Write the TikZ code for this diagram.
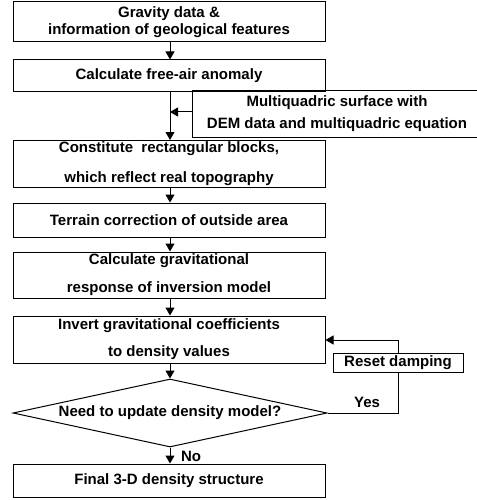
\documentclass[tikz,border=0pt]{standalone}
\usepackage{fontspec}
\setmainfont{Liberation Sans}
\usetikzlibrary{shapes.geometric,arrows.meta}
\begin{document}
\begin{tikzpicture}[x=1pt,y=-1pt,
  every node/.style={font=\fontsize{15}{17}\selectfont\bfseries},
  box/.style={draw,line width=1pt,minimum width=312pt,inner sep=0pt,align=center},
  arr/.style={line width=1pt,-{Triangle[length=8pt,width=9pt]}},
  ln/.style={line width=1pt}]
\useasboundingbox (0,0) rectangle (476,500);
\node[box,minimum height=40pt,font=\fontsize{15}{17}\selectfont\bfseries] (b1) at (169,22) {Gravity data \&\\information of geological features};
\node[box,minimum height=32pt] (b2) at (169,76) {Calculate free-air anomaly};
\node[draw,line width=1pt,minimum width=290pt,minimum height=46pt,inner sep=0pt,align=center,font=\fontsize{15}{22}\selectfont\bfseries] (side) at (337,114) {Multiquadric surface with\\DEM data and multiquadric equation};
\node[box,minimum height=47pt,font=\fontsize{15}{30}\selectfont\bfseries] (b3) at (169,163.5) {Constitute\ \ rectangular blocks,\\which reflect real topography};
\node[box,minimum height=34pt] (b4) at (169,220) {Terrain correction of outside area};
\node[box,minimum height=46pt,font=\fontsize{15}{28}\selectfont\bfseries] (b5) at (169,275) {Calculate gravitational\\response of inversion model};
\node[box,minimum height=47pt,font=\fontsize{15}{27}\selectfont\bfseries] (b6) at (169,339.5) {Invert gravitational coefficients\\to density values};
\node[draw,line width=1pt,diamond,shape aspect=4.6,minimum width=314pt,minimum height=68pt,inner sep=0pt] (d) at (170,413) {Need to update density model?};
\node[box,minimum height=33pt] (b7) at (169,480.5) {Final 3-D density structure};
\node[draw,line width=1pt,minimum width=130pt,minimum height=19pt,inner sep=0pt] (reset) at (398,362.5) {Reset damping};
\coordinate (top2) at (170,92);
\coordinate (top3) at (170,140);
\coordinate (j) at (170,112);
\draw[arr] (170,42) -- (b2.north -| 170,0);
\draw[arr] (top2) -- (top3);
\draw[arr] (side.west |- j) -- (j);
\draw[arr] (b3.south -| 170,0) -- (b4.north -| 170,0);
\draw[arr] (b4.south -| 170,0) -- (b5.north -| 170,0);
\draw[arr] (b5.south -| 170,0) -- (b6.north -| 170,0);
\draw[arr] (b6.south -| d.north) -- (d.north);
\draw[arr] (d.south) -- (b7.north -| d.south);
\draw[ln] (d.east) -- (d.east -| reset.south) -- (reset.south);
\draw[arr] (reset.north) -- (398,340) -- (b6.east |- 0,340);
\node (yes) at (367,402) {Yes};
\node (no) at (191,456) {No};
\end{tikzpicture}
\end{document}
